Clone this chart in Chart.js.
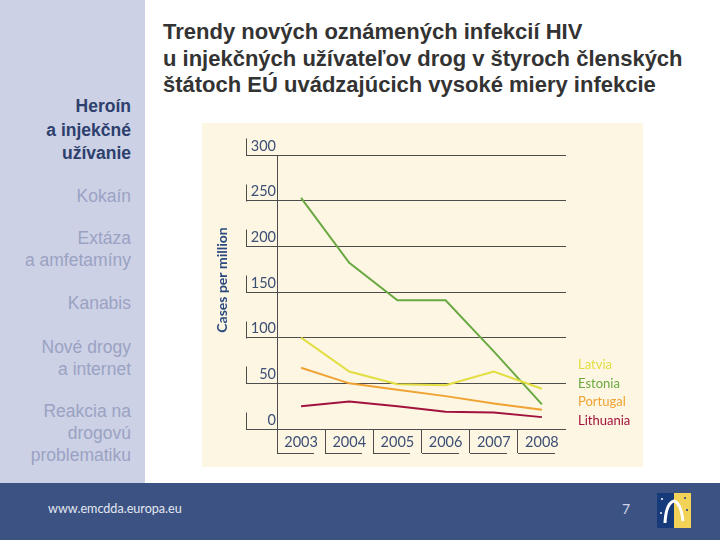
<!DOCTYPE html>
<html lang="sk">
<head>
<meta charset="utf-8">
<script src="https://cdn.jsdelivr.net/npm/chart.js@4/dist/chart.umd.min.js"></script>
<style>
    html, body { margin: 0; padding: 0; }
    body { width: 720px; height: 540px; position: relative; overflow: hidden; background: #fff; font-family: "Liberation Sans", Arial, sans-serif; }
    #side { position: absolute; left: 0; top: 0; width: 145px; height: 483px; background: #ccd1e6; }
    .nav { position: absolute; right: 14px; text-align: right; font-size: 17.5px; line-height: 22px; color: #9ba2c2; white-space: nowrap; }
    .nav.active { color: #2d3f6c; font-weight: bold; line-height: 23.5px; }
    #title { position: absolute; left: 163px; top: 19px; font-size: 22px; line-height: 26.5px; font-weight: bold; color: #333; white-space: nowrap; }
    #box { position: absolute; left: 202px; top: 123px; width: 441px; height: 344px; background: #fcf6e2; }
    #footer { position: absolute; left: 0; top: 483px; width: 720px; height: 57px; background: #3b5282; }
    #url { position: absolute; left: 48px; top: 18px; font-family: Lato, sans-serif; font-size: 12.6px; color: #e4e8f2; }
    #page { position: absolute; left: 622px; top: 17px; font-family: Lato, sans-serif; font-size: 14px; color: #cfd5e8; }
    #logo { position: absolute; left: 657px; top: 10px; width: 34px; height: 35px; }
</style>
</head>
<body>
<div id="side">
    <div class="nav active" style="top:95px">Heroín<br>a injekčné<br>užívanie</div>
    <div class="nav" style="top:185px">Kokaín</div>
    <div class="nav" style="top:227px">Extáza<br>a amfetamíny</div>
    <div class="nav" style="top:292px">Kanabis</div>
    <div class="nav" style="top:336px">Nové drogy<br>a internet</div>
    <div class="nav" style="top:400px">Reakcia na<br>drogovú<br>problematiku</div>
</div>
<div id="title">Trendy nových oznámených infekcií HIV<br>u injekčných užívateľov drog v štyroch členských<br>štátoch EÚ uvádzajúcich vysoké miery infekcie</div>
<div id="box"><canvas id="chart" width="441" height="344"></canvas></div>
<div id="footer">
    <div id="url">www.emcdda.europa.eu</div>
    <div id="page">7</div>
    <svg id="logo" viewBox="0 0 34 35">
        <rect x="0" y="0" width="17" height="35" fill="#173a7a"/>
        <rect x="17" y="0" width="17" height="35" fill="#f2d257"/>
        <path d="M8 30 Q9 10 17 8 Q24 10 26 28" stroke="#fff" stroke-width="3" fill="none"/>
        <circle cx="5" cy="6" r="1" fill="#fff"/><circle cx="4" cy="20" r="1" fill="#fff"/>
        <circle cx="28" cy="5" r="1" fill="#173a7a"/><circle cx="30" cy="17" r="1" fill="#173a7a"/>
    </svg>
</div>
<script>
const years = ['2003', '2004', '2005', '2006', '2007', '2008'];
const countries = ['Latvia', 'Estonia', 'Portugal', 'Lithuania'];
const latvia = [100, 63, 49, 48, 63, 44];
const estonia = [253, 182, 141, 141, 85, 27];
const portugal = [67, 50, 43, 36, 28, 21];
const lithuania = [25, 30, 25, 19, 18, 13];
const lineColors = ['#e2de42', '#6aa842', '#f0a233', '#a2123e'];
const yMax = 300;
const yStep = 50;
const yTitle = 'Cases per million';

const gridColor = '#4d4d4d';
const tickColor = '#3d4f75';

// brackets next to the tick labels, the axis title and the coloured legend at the right
const decor = {
    id: 'decor',
    afterDraw(chart) {
        const { ctx, chartArea } = chart;
        const x = chart.scales.x;
        const y = chart.scales.y;
        ctx.save();
        ctx.strokeStyle = gridColor;
        ctx.lineWidth = 1;
        ctx.beginPath();
        y.ticks.forEach(t => {
            const py = Math.round(y.getPixelForValue(t.value)) + 0.5;
            const px = chartArea.left - 31 + 0.5;
            ctx.moveTo(px, py);
            ctx.lineTo(px, py - 17);
        });
        const half = (x.getPixelForValue(1) - x.getPixelForValue(0)) / 2;
        const by = Math.round(chartArea.bottom + 24) + 0.5;
        years.forEach((yr, i) => {
            const left = Math.round(x.getPixelForValue(i) - half);
            ctx.moveTo(left, by);
            ctx.lineTo(left + 37, by);
        });
        ctx.stroke();

        // rotated axis title, a bit above the middle like the original
        ctx.save();
        ctx.translate(chartArea.left - 55, (chartArea.top + chartArea.bottom) / 2 - 12);
        ctx.rotate(-Math.PI / 2);
        ctx.font = 'bold 14px Lato';
        ctx.fillStyle = '#2a4a80';
        ctx.textAlign = 'center';
        ctx.textBaseline = 'middle';
        ctx.fillText(yTitle, 0, 0);
        ctx.restore();

        ctx.font = '13px Lato';
        ctx.textAlign = 'left';
        ctx.textBaseline = 'middle';
        chart.data.datasets.forEach((ds, i) => {
            ctx.fillStyle = ds.borderColor;
            const n = chart.data.datasets.length - 1 - i;
            ctx.fillText(ds.label, chartArea.right + 12, chartArea.bottom - 8 - n * 18.7);
        });
        ctx.restore();
    }
};

const series = [latvia, estonia, portugal, lithuania];

new Chart(document.getElementById('chart'), {
    type: 'line',
    data: {
        labels: years,
        datasets: countries.map((name, i) => ({
            label: name,
            data: series[i],
            borderColor: lineColors[i],
            borderWidth: 2,
            pointRadius: 0,
            tension: 0,
            fill: false
        }))
    },
    options: {
        responsive: false,
        devicePixelRatio: 1,
        animation: false,
        layout: { padding: { top: 32, right: 77, left: 0, bottom: 0 } },
        plugins: { legend: { display: false }, tooltip: { enabled: false } },
        scales: {
            x: {
                offset: true,
                border: { display: false },
                grid: {
                    offset: true,
                    drawOnChartArea: false,
                    drawTicks: true,
                    tickLength: 24,
                    color: ctx => ctx.type === 'tick' ? gridColor : 'rgba(0,0,0,0)'
                },
                ticks: { padding: -19, color: tickColor, font: { family: 'Lato', size: 14.5 } },
                afterFit: s => { s.height = 38; }
            },
            y: {
                min: 0,
                max: yMax,
                border: { display: true, color: gridColor },
                grid: { color: gridColor, tickLength: 31 },
                ticks: {
                    stepSize: yStep,
                    labelOffset: -9,
                    padding: -30,
                    color: tickColor,
                    font: { family: 'Lato', size: 14.5 }
                },
                afterFit: s => { s.width = 75; }
            }
        }
    },
    plugins: [decor]
});
</script>
</body>
</html>
